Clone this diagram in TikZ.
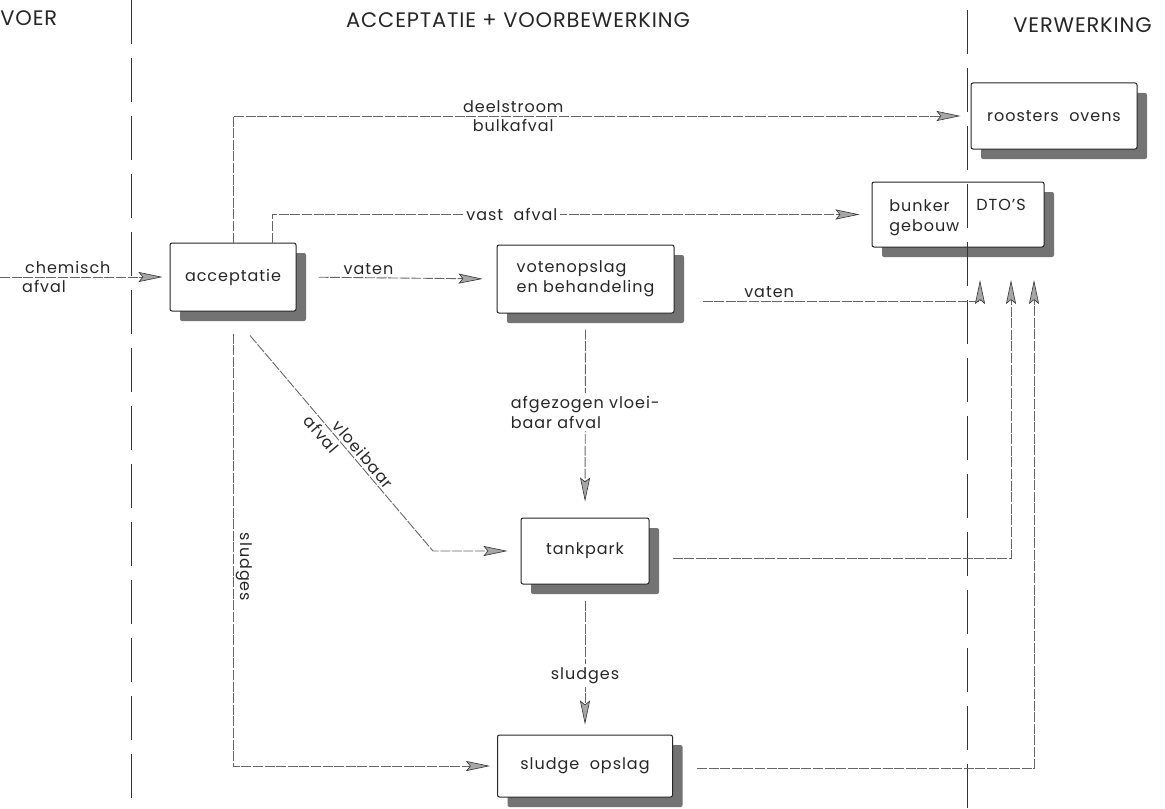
\documentclass[tikz,border=0pt]{standalone}
\usepackage{fontspec}
\setmainfont{Poppins}
\usetikzlibrary{arrows.meta,shadows}

\newcommand{\flowfont}{\fontsize{8}{10}\selectfont\addfontfeatures{LetterSpace=6}}
\newcommand{\headfont}{\fontsize{10.5}{12}\selectfont\addfontfeatures{LetterSpace=4}}

\tikzset{
  unitbox/.style={draw=black!85, line width=0.5pt, fill=white, rounded corners=1pt,
    inner sep=2pt, font=\flowfont, text=black!85,
    drop shadow={shadow xshift=5pt, shadow yshift=-5pt, fill=black!55, opacity=1}},
  flow/.style={draw=black!60, line width=0.45pt, dash pattern=on 5pt off 0.8pt},
  tip/.style={-{Stealth[length=12pt,width=5pt,inset=2pt,fill=black!35,color=black!80,line width=0.3pt]}},
  divider/.style={draw=black!80, line width=0.5pt, dash pattern=on 22pt off 7pt},
  lbl/.style={font=\flowfont, text=black!85, inner sep=1.5pt},
  head/.style={font=\headfont, text=black!85, anchor=base, inner sep=0pt}
}

\begin{document}
\begin{tikzpicture}[x=0.5pt, y=-0.5pt]
  \useasboundingbox (0,0) rectangle (1165,808);

  % kolomkoppen
  \node[head, anchor=base west] (voer) at (0,26) {VOER};
  \node[head] (acc) at (518,28) {ACCEPTATIE + VOORBEWERKING};
  \node[head, anchor=base west] (verw) at (1013,33) {VERWERKING};

  % eenheden
  \node[unitbox, minimum width=63pt, minimum height=34pt] (accept) at (233,277) {acceptatie};
  \node[unitbox, minimum width=88.5pt, minimum height=34pt, align=left] (vaten) at (585.5,279) {votenopslag\\en behandeling};
  \node[unitbox, minimum width=64pt, minimum height=33pt] (tank) at (585,551) {tankpark};
  \node[unitbox, minimum width=87.5pt, minimum height=31pt] (sludge) at (585,766) {sludge\ \ opslag};
  \node[unitbox, minimum width=83pt, minimum height=33pt] (ovens) at (1054,116) {roosters\ \ ovens};
  \node[unitbox, minimum width=86pt, minimum height=32.5pt] (bunker) at (958,214.5) {};
  \node[lbl, align=left, anchor=north west] (geb) at (886,196) {bunker\\gebouw};
  \node[lbl, anchor=north west] (dto) at (973,196) {DTO'S};

  % scheidingen
  \draw[divider] (131,0) -- (131,808);
  \draw[divider] (967,10) -- (967,808);

  % ingangen verwerking
  \coordinate (in1) at (980,280);
  \coordinate (in2) at (1011,280);
  \coordinate (in3) at (1034,280);
  \coordinate (src) at (0,277);
  \coordinate (bend) at (433,551);

  % stromen
  \draw[flow, tip, shorten >=3.5pt] (src) -- (accept.west)
    node[lbl, above, pos=0.4] {chemisch}
    node[lbl, below, pos=0.26] {afval};
  \draw[flow, tip, shorten <=11pt, shorten >=7pt] (accept.east) -- (vaten.west)
    node[lbl, above, pos=0.36] {vaten};
  \draw[flow, tip, shorten >=5pt] (accept.north) |- (ovens.west)
    node[lbl, above, pos=0.69] {deelstroom}
    node[lbl, below, pos=0.69] {bulkafval};
  \draw[flow, tip, shorten >=6pt] ([xshift=19.5pt]accept.north) |- (bunker.west)
    node[lbl, fill=white, pos=0.7] {vast\ \ afval};
  \draw[flow, tip] ([xshift=14pt, yshift=-11pt]vaten.east) -| (in1)
    node[lbl, above, pos=0.12] {vaten};
  \draw[flow, tip] ([xshift=11.5pt, yshift=-3.5pt]tank.east) -| (in2);
  \draw[flow, tip] ([xshift=12pt, yshift=-1pt]sludge.east) -| (in3);
  \draw[flow, tip, shorten >=6.5pt] ([xshift=8.5pt, yshift=-12pt]accept.south) -- (bend)
    node[lbl, sloped, above, pos=0.58] {vloeibaar}
    node[lbl, sloped, below, pos=0.43] {afval}
    -- (tank.west);
  \draw[flow, tip, shorten >=3.5pt] ([yshift=-11pt]accept.south) |- (sludge.west)
    node[lbl, rotate=-90, anchor=south, pos=0.27] {sludges};
  \draw[flow, tip, shorten >=8pt] ([yshift=-8pt]vaten.south) -- (tank.north)
    node[lbl, fill=white, align=left, pos=0.44] {afgezogen vloei-\\baar afval};
  \draw[flow, tip, shorten >=5pt] ([yshift=-8pt]tank.south) -- (sludge.north)
    node[lbl, fill=white, pos=0.56] {sludges};
\end{tikzpicture}
\end{document}
